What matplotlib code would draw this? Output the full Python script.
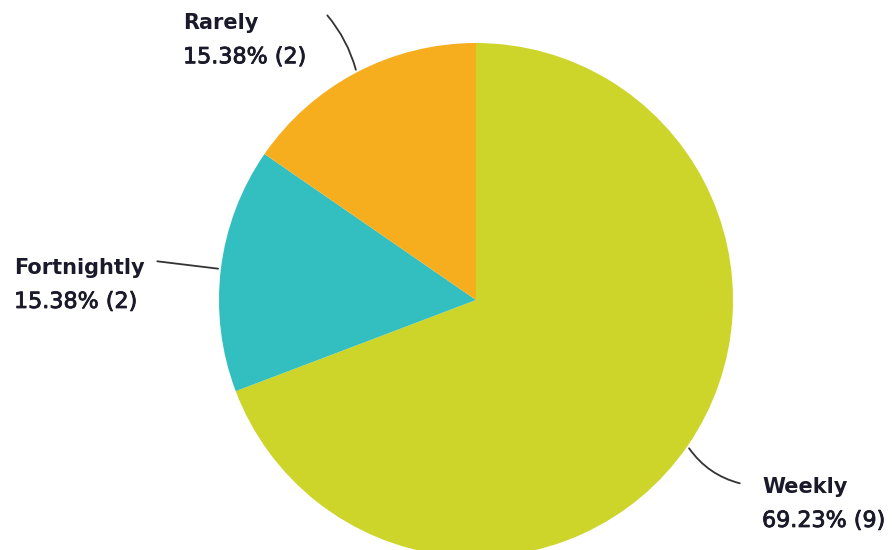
import numpy as np
import matplotlib
matplotlib.use("Agg")
import matplotlib.pyplot as plt
import matplotlib.patheffects as pe

# survey answers: how often
labels = ["Weekly", "Fortnightly", "Rarely"]
counts = [9, 2, 2]
colors = ["#CDD42A", "#33BEC0", "#F6AE1F"]

# label block left edge (px), vertical nudge and leader curvature per slice
label_x = [762, 14, 183]
label_dy = [-3, -7, -10]
leader_rad = [-0.2, 0.0, -0.12]

W, H = 892, 550
CX, CY, R = 476, 250, 257
TXT = "#1a1a2a"

fig = plt.figure(figsize=(W / 100, H / 100), dpi=100)
ax = fig.add_axes([0, 0, 1, 1])

wedges, _ = ax.pie(counts, colors=colors, startangle=90, counterclock=False,
                   center=(CX, CY), radius=R, frame=True,
                   wedgeprops=dict(linewidth=0))
ax.set_xlim(0, W); ax.set_ylim(0, H)
ax.set_aspect("equal"); ax.axis("off")

# slightly heavier regular text for the percentage line
thick = [pe.withStroke(linewidth=0.6, foreground=TXT)]

total = sum(counts)
for w, lab, n, lx, dy, rad in zip(wedges, labels, counts, label_x, label_dy, leader_rad):
    mid = np.deg2rad((w.theta1 + w.theta2) / 2)
    p0 = (CX + R * np.cos(mid), CY + R * np.sin(mid))
    p1 = (CX + 1.26 * R * np.cos(mid), CY + 1.26 * R * np.sin(mid))
    ax.annotate("", xy=p0, xytext=p1,
                arrowprops=dict(arrowstyle="-", color="#333333", lw=1.3,
                                connectionstyle=f"arc3,rad={rad}"))
    ny = p1[1] + dy
    ax.text(lx, ny, lab, fontsize=15, weight="bold", color=TXT,
            ha="left", va="center")
    ax.text(lx, ny - 34, f"{100 * n / total:.2f}% ({n})", fontsize=16,
            color=TXT, ha="left", va="center", path_effects=thick)

fig.savefig("out.png", dpi=100)
